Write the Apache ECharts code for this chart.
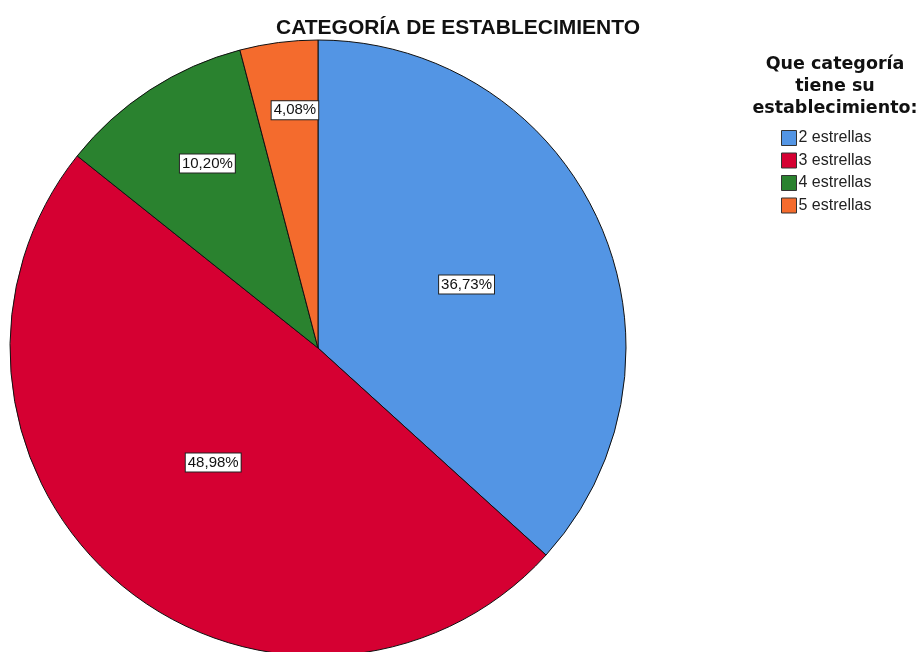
<!DOCTYPE html>
<html><head><meta charset="utf-8">
<script src="https://cdn.jsdelivr.net/npm/echarts@6/dist/echarts.min.js"></script>
<style>html,body{margin:0;padding:0;background:#fff}#c{width:917px;height:652px}</style>
</head><body><div id="c"></div>
<script>
const categories = ['2 estrellas', '3 estrellas', '4 estrellas', '5 estrellas'];
const percents = [36.73, 48.98, 10.20, 4.08];
const colors = ['#5395E4', '#D50032', '#2A822F', '#F46B2D'];
const labelOffsets = [[5, 0], [-3, -5], [-25, -53], [-3, -82]];

const chart = echarts.init(document.getElementById('c'));
chart.setOption({
  animation: false,
  backgroundColor: '#fff',
  title: [{
    text: 'CATEGORÍA DE ESTABLECIMIENTO',
    left: 453, top: 13, textAlign: 'center',
    textStyle: {fontFamily: 'Liberation Sans', fontSize: 21, fontWeight: 'bold', color: '#111'}
  }, {
    text: 'Que categoría\ntiene su\nestablecimiento:',
    left: 830, top: 48, textAlign: 'center',
    textStyle: {fontFamily: 'DejaVu Sans', fontSize: 17.5, fontWeight: 'bold', color: '#111', lineHeight: 22}
  }],
  legend: {
    orient: 'vertical', left: 776, top: 125,
    itemWidth: 15, itemHeight: 15, itemGap: 6.5,
    icon: 'rect',
    itemStyle: {borderColor: '#333', borderWidth: 1},
    textStyle: {fontFamily: 'Liberation Sans', fontSize: 16, color: '#222', lineHeight: 16, padding: [0, 0, 0, -3]},
    data: categories
  },
  series: [{
    type: 'pie',
    center: [318, 348], radius: 308,
    startAngle: 90, clockwise: true,
    itemStyle: {borderColor: '#111', borderWidth: 1},
    label: {
      position: 'inside', fontFamily: 'Liberation Sans', fontSize: 15, color: '#111',
      backgroundColor: '#fff', borderColor: '#222', borderWidth: 1, padding: [2, 2, 1, 2],
      formatter: p => p.value.toFixed(2).replace('.', ',') + '%'
    },
    labelLine: {show: false},
    emphasis: {disabled: true},
    data: categories.map((c, i) => ({
      name: c, value: percents[i],
      itemStyle: {color: colors[i]},
      label: {offset: labelOffsets[i]}
    }))
  }]
});
</script></body></html>
